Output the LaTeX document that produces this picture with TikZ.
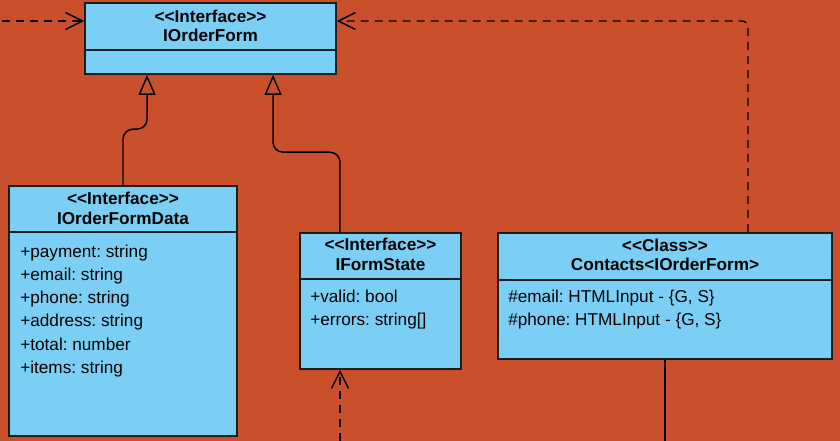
\documentclass[tikz,border=0pt]{standalone}
\usepackage{fontspec}
\setmainfont{Liberation Sans}[Ligatures=TeXOff]
\usetikzlibrary{arrows.meta,fit}
\definecolor{bg}{HTML}{C9502B}
\definecolor{boxfill}{HTML}{7BCFF4}
\definecolor{edge}{HTML}{1C1C1C}
\frenchspacing
\begin{document}
\begin{tikzpicture}[x=0.75pt,y=-0.75pt,
  box/.style={draw=edge, fill=boxfill, line width=1.2pt, inner sep=0pt},
  divider/.style={draw=edge, line width=1.1pt},
  title/.style={font=\bfseries\fontsize{12.9}{15}\selectfont, inner sep=0pt, anchor=base},
  attr/.style={font=\fontsize{12.9}{15}\selectfont, inner sep=0pt, anchor=base west},
  conn/.style={draw=black, line width=1.1pt},
  dep/.style={conn, dash pattern=on 6pt off 4.5pt, -{Straight Barb[length=12.75pt,width=12.75pt,line width=1.1pt]}},
  gen/.style={conn, rounded corners=7.5pt, -{Triangle[open,length=15pt,width=12.75pt,line width=1.1pt]}}
]
\useasboundingbox (0,0) rectangle (840,441);
\fill[bg] (0,0) rectangle (840,441);

% IOrderForm
\node[box, fit={(85,3) (336,74)}] (iof) {};
\draw[divider] (85,50) -- (336,50);
\node[title] (iof-s) at (210.5,22.5) {<<Interface>>};
\node[title] (iof-n) at (210.5,42) {IOrderForm};

% IOrderFormData
\node[box, fit={(9,186) (237,436)}] (iofd) {};
\draw[divider] (9,232) -- (237,232);
\node[title] (iofd-s) at (123,204.5) {<<Interface>>};
\node[title] (iofd-n) at (123,225) {IOrderFormData};
\node[attr] (iofd-a1) at (20,257.3) {+payment: string};
\node[attr] (iofd-a2) at (20,280.5) {+email: string};
\node[attr] (iofd-a3) at (20,303.7) {+phone: string};
\node[attr] (iofd-a4) at (20,327) {+address: string};
\node[attr] (iofd-a5) at (20,350.1) {+total: number};
\node[attr] (iofd-a6) at (20,373.3) {+items: string};

% IFormState
\node[box, fit={(300,233) (461,369)}] (ifs) {};
\draw[divider] (300,279) -- (461,279);
\node[title] (ifs-s) at (380.5,251) {<<Interface>>};
\node[title] (ifs-n) at (380.5,271) {IFormState};
\node[attr] (ifs-a1) at (310,302.3) {+valid: bool};
\node[attr] (ifs-a2) at (310,325.5) {+errors: string[]};

% Contacts
\node[box, fit={(498,233) (832,359)}] (ct) {};
\draw[divider] (498,280) -- (832,280);
\node[title] (ct-s) at (665,251.7) {<<Class>>};
\node[title] (ct-n) at (665,271) {Contacts<IOrderForm>};
\node[attr] (ct-a1) at (508,302.3) {\#email: HTMLInput - \{G, S\}};
\node[attr] (ct-a2) at (508,325.5) {\#phone: HTMLInput - \{G, S\}};

% connectors
\coordinate (lstart) at (2,21);
\coordinate (b1) at (340,441);
\coordinate (b2) at (665,441);
\draw[dep] (lstart) -- (lstart -| iof.west);
\draw[dep, rounded corners=4.5pt] ([xshift=62.25pt]ct.north) |- (lstart -| iof.east);
\draw[gen] (iofd.north) -- ++(0,-56) -| ([xshift=-47.6pt]iof.south);
\draw[gen] ([xshift=-30.4pt]ifs.north) -- ++(0,-80) -| ([xshift=46.9pt]iof.south);
\draw[dep] (b1) -- (b1 |- ifs.south);
\draw[conn] (ct.south) -- (b2);
\end{tikzpicture}
\end{document}
